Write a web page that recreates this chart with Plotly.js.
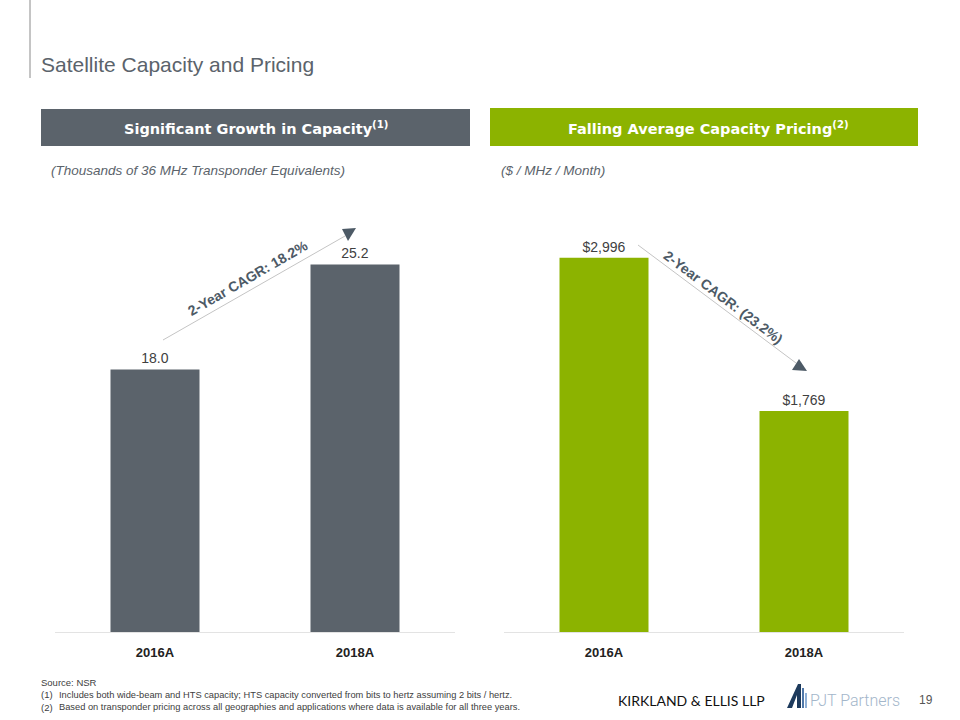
<!DOCTYPE html>
<html>
<head>
<meta charset="utf-8">
<script src="https://cdn.plot.ly/plotly-3.0.1.min.js"></script>
<style>html,body{margin:0;padding:0;background:#fff;}#chart{width:960px;height:720px;}</style>
</head>
<body>
<div id="chart"></div>
<script>
// ---- data ----
const categories = ['2016A', '2018A'];
const capacity = [18.0, 25.2];          // thousands of 36 MHz TPE
const pricing = [2996, 1769];           // $ / MHz / Month
const capacityCagr = '2-Year CAGR: 18.2%';
const pricingCagr = '2-Year CAGR: (23.2%)';

// ---- helpers: pixel -> paper ----
const W = 960, H = 720;
const px = x => x / W;
const py = y => 1 - y / H;
const path = pts => 'M ' + pts.map(p => px(p[0]) + ',' + py(p[1])).join(' L ') + ' Z';

const GRAY = '#5b636b', GREEN = '#8cb300', TXT = '#404040', ARROW = '#4d5a66';
const FONT = 'Liberation Sans, Arial, sans-serif';
const HFONT = 'DejaVu Sans, Liberation Sans, sans-serif';

const traces = [
  {
    type: 'bar', x: categories, y: capacity, xaxis: 'x', yaxis: 'y',
    marker: {color: GRAY}, texttemplate: '%{y:.1f}', textposition: 'outside',
    textfont: {family: FONT, size: 14, color: TXT}, cliponaxis: false, hoverinfo: 'skip'
  },
  {
    type: 'bar', x: categories, y: pricing, xaxis: 'x2', yaxis: 'y2',
    marker: {color: GREEN}, texttemplate: '$%{y:,.0f}', textposition: 'outside',
    textfont: {family: FONT, size: 14, color: TXT}, cliponaxis: false, hoverinfo: 'skip'
  }
];

const yTop = 190, yBot = 632;
const axisCommon = {
  showgrid: false, zeroline: false, showline: true, linecolor: '#e3e3e3', linewidth: 1,
  ticks: '', ticklabelstandoff: 8,
  tickfont: {family: FONT, size: 13, color: '#222', weight: 'bold'}, fixedrange: true
};
const yCommon = {showgrid: false, zeroline: false, showline: false, showticklabels: false, ticks: '', fixedrange: true,
  domain: [py(yBot), py(yTop)]};

const ann = (x, y, text, font, extra) => Object.assign({xref: 'paper', yref: 'paper', x: px(x), y: py(y),
  xanchor: 'left', yanchor: 'middle', showarrow: false, text: text, font: font}, extra || {});

const layout = {
  width: W, height: H, margin: {l: 0, r: 0, t: 0, b: 0},
  paper_bgcolor: '#fff', plot_bgcolor: 'rgba(0,0,0,0)',
  showlegend: false, bargap: 0.555,
  font: {family: FONT},
  xaxis: Object.assign({}, axisCommon, {domain: [px(55), px(455)], anchor: 'y'}),
  yaxis: Object.assign({}, yCommon, {range: [0, 30.3], anchor: 'x'}),
  xaxis2: Object.assign({}, axisCommon, {domain: [px(504), px(904)], anchor: 'y2'}),
  yaxis2: Object.assign({}, yCommon, {range: [0, 3539], anchor: 'x2'}),
  shapes: [
    // left vertical rule
    {type: 'line', xref: 'paper', yref: 'paper', x0: px(30), x1: px(30), y0: py(0), y1: py(78), line: {color: '#8a8a8a', width: 1}},
    // header boxes
    {type: 'rect', xref: 'paper', yref: 'paper', x0: px(41), x1: px(470), y0: py(146), y1: py(109), fillcolor: GRAY, line: {width: 0}},
    {type: 'rect', xref: 'paper', yref: 'paper', x0: px(490), x1: px(918), y0: py(146), y1: py(108), fillcolor: GREEN, line: {width: 0}},
    // CAGR lines
    {type: 'line', xref: 'paper', yref: 'paper', x0: px(163), y0: py(340), x1: px(345), y1: py(236), line: {color: '#c4c4c4', width: 1}},
    {type: 'path', xref: 'paper', yref: 'paper', path: path([[342, 229], [356, 228], [348, 241]]), fillcolor: ARROW, line: {width: 0}},
    {type: 'line', xref: 'paper', yref: 'paper', x0: px(638), y0: py(245), x1: px(796), y1: py(363), line: {color: '#c4c4c4', width: 1}},
    {type: 'path', xref: 'paper', yref: 'paper', path: path([[799, 359], [792, 370], [807, 371]]), fillcolor: ARROW, line: {width: 0}},
    // PJT logo mark
    {type: 'path', xref: 'paper', yref: 'paper', path: path([[787, 708], [798, 684], [801, 684], [801, 708], [797, 708], [797, 695], [792, 708]]), fillcolor: '#1d3a5c', line: {width: 0}},
    {type: 'rect', xref: 'paper', yref: 'paper', x0: px(802), x1: px(804), y0: py(708), y1: py(688), fillcolor: '#4f77a8', line: {width: 0}},
    {type: 'rect', xref: 'paper', yref: 'paper', x0: px(805), x1: px(807), y0: py(708), y1: py(693), fillcolor: '#8fb0d6', line: {width: 0}}
  ],
  annotations: [
    ann(39, 64, 'Satellite Capacity and Pricing', {family: FONT, size: 21, color: '#5b636b'}),
    ann(256, 128, '<b>Significant Growth in Capacity<sup>(1)</sup></b>', {family: HFONT, size: 14.5, color: '#fff'}, {xanchor: 'center'}),
    ann(708, 128, '<b>Falling Average Capacity Pricing<sup>(2)</sup></b>', {family: HFONT, size: 14.5, color: '#fff'}, {xanchor: 'center'}),
    ann(49, 170, '<i>(Thousands of 36 MHz Transponder Equivalents)</i>', {family: FONT, size: 13.5, color: '#5b636b'}),
    ann(499, 170, '<i>($ / MHz / Month)</i>', {family: FONT, size: 13.5, color: '#5b636b'}),
    ann(248, 278, '<b>' + capacityCagr + '</b>', {family: FONT, size: 14, color: ARROW}, {xanchor: 'center', textangle: -30}),
    ann(723, 297, '<b>' + pricingCagr + '</b>', {family: FONT, size: 14, color: ARROW}, {xanchor: 'center', textangle: 37}),
    // footnotes
    ann(39, 682, 'Source: NSR', {family: FONT, size: 9.5, color: TXT}),
    ann(39, 694.5, '(1)', {family: FONT, size: 9.5, color: TXT}),
    ann(57, 694.5, 'Includes both wide-beam and HTS capacity; HTS capacity converted from bits to hertz assuming 2 bits / hertz.', {family: FONT, size: 9.3, color: TXT}),
    ann(39, 707, '(2)', {family: FONT, size: 9.5, color: TXT}),
    ann(57, 707, 'Based on transponder pricing across all geographies and applications where data is available for all three years.', {family: FONT, size: 9.3, color: TXT}),
    // logos & page number
    ann(616, 700, 'KIRKLAND &amp; ELLIS LLP', {family: 'Lato, Liberation Sans, sans-serif', size: 14, color: '#111'}),
    ann(808, 700, 'PJT Partners', {family: 'Roboto, Liberation Sans, sans-serif', size: 16, color: '#a3b6ca', weight: 300}),
    ann(935, 700, '19', {family: FONT, size: 12, color: '#555'}, {xanchor: 'right'})
  ]
};

Plotly.newPlot('chart', traces, layout, {staticPlot: true, displayModeBar: false});
</script>
</body>
</html>
